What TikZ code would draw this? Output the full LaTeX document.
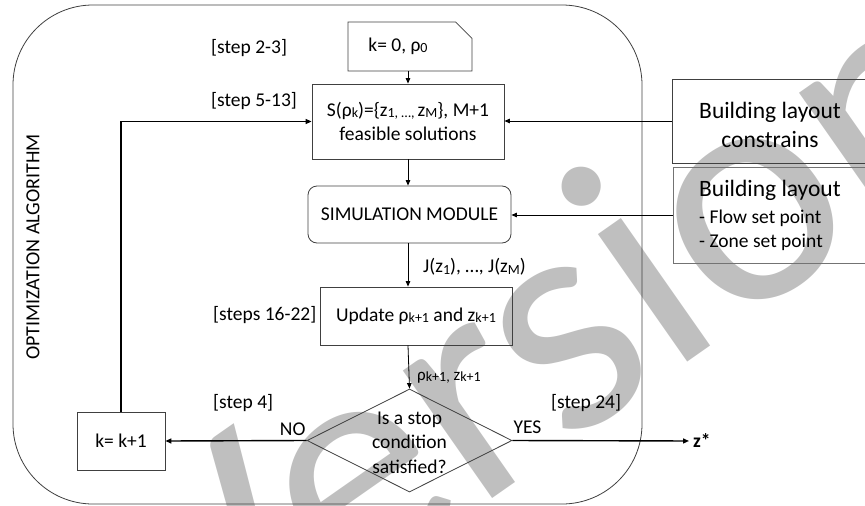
\documentclass[tikz,border=0pt]{standalone}
\usepackage{fontspec}
\setmainfont{Carlito}
\usetikzlibrary{arrows.meta,shapes.misc,shapes.geometric,calc}
\newcommand\sbx[1]{\raisebox{-1.3pt}{\fontsize{14}{14}\selectfont #1}}
\begin{document}
\begin{tikzpicture}[x=1pt,y=-1pt,
  every node/.style={font=\fontsize{19.5}{24}\selectfont, text=black},
  box/.style={draw=black!75, line width=0.8pt, inner sep=0pt},
  chbox/.style={box, chamfered rectangle, chamfered rectangle corners=north east,
                chamfered rectangle xsep=9pt, chamfered rectangle ysep=8pt},
  arr/.style={line width=1pt, draw=black, -{Triangle[length=5.5pt,width=4.5pt]}},
  farr/.style={line width=1.4pt, draw=black, -{Triangle[length=6pt,width=5pt]}},
  lbl/.style={inner sep=0pt}]
\useasboundingbox (0,0) rectangle (865,506);
\clip (0,0) rectangle (865,506);

% watermark
\node[lbl, text=black!25, rotate=35, anchor=base,
      font=\fontsize{326}{326}\selectfont] (wm) at (607,418) {Version};

% outer frame
\node[draw=black!75, line width=0.8pt, rounded corners=80pt,
      minimum width=629pt, minimum height=499pt, inner sep=0pt] (frame) at (327.5,254.5) {};
\node[lbl, rotate=90, font=\fontsize{20}{24}\selectfont] (optlabel) at (33,247) {OPTIMIZATION ALGORITHM};

% main nodes
\node[chbox, minimum width=124pt, minimum height=49pt, align=left] (kbox) at (410,46.5)
  {k= 0, ρ\sbx{0}\hspace{24pt}};
\node[box, minimum width=192pt, minimum height=75pt, align=center] (sbox) at (408,121.5)
  {S(ρ\sbx{k})=\{z\sbx{1, …, }z\sbx{M}\}, M+1\\feasible solutions};
\node[box, rounded corners=9pt, minimum width=203pt, minimum height=57pt] (sim) at (409.5,214.5)
  {SIMULATION MODULE};
\node[box, minimum width=192pt, minimum height=58pt] (upd) at (416,316)
  {Update ρ\sbx{k+1} and z\sbx{k+1}};
\node[diamond, box, minimum width=205pt, minimum height=103pt] (dec) at (409.5,440.5) {};
\node[lbl, align=center, font=\fontsize{19.5}{24.5}\selectfont] (dectext) at ($(dec.center)+(0,2)$)
  {Is a stop\\condition\\satisfied?};
\node[box, minimum width=88pt, minimum height=58pt] (kk) at (121,441) {k= k+1};
\node[lbl, anchor=west, font=\bfseries\fontsize{19.5}{24}\selectfont] (zstar) at (693,441) {z*};

% building layout boxes
\node[chbox, minimum width=196pt, minimum height=84pt] (b1) at (770,121) {};
\node[lbl, align=center, font=\fontsize{23.5}{29}\selectfont] (b1text) at (770,125)
  {Building layout\\constrains};
\node[chbox, draw=black!55, minimum width=195pt, minimum height=96pt] (b2) at (770.5,215) {};
\node[lbl, anchor=base west, font=\fontsize{23.5}{28}\selectfont] (b2t1) at (699,196) {Building layout};
\node[lbl, anchor=base west] (b2t2) at (699,223) {- Flow set point};
\node[lbl, anchor=base west] (b2t3) at (699,247) {- Zone set point};

% step labels
\node[lbl, anchor=west] (s23) at (211,48) {[step 2-3]};
\node[lbl, anchor=west] (s513) at (211,101) {[step 5-13]};
\node[lbl, anchor=west] (s1622) at (213,315) {[steps 16-22]};
\node[lbl, anchor=west] (s4) at (213,403) {[step 4]};
\node[lbl, anchor=west] (s24) at (551,403) {[step 24]};

% connectors
\coordinate (ax) at (408,0);
\draw[arr] (kbox.south -| ax) -- (sbox.north -| ax);
\draw[arr] (sbox.south -| ax) -- (sim.north -| ax);
\draw[arr] (sim.south -| ax) -- (upd.north -| ax);
\draw[arr, line width=0.8pt] (upd.south -| ax) -- (dec.north);
\node[lbl, anchor=west] (jlab) at (423,267) {J(z\sbx{1}), …, J(z\sbx{M})};
\node[lbl, anchor=west, font=\fontsize{17}{20}\selectfont] (rlab) at (417,378)
  {ρ\sbx{k+1,} z\sbx{k+1}};

\draw[farr] (kk.north) |- (sbox.west);
\draw[farr] (dec.west) -- (kk.east);
\draw[farr, shorten >=4pt] (dec.east) -- (zstar.west);
\node[lbl, anchor=base east] (nolab) at ($(dec.west)+(-1,-5.5)$) {NO};
\node[lbl, anchor=base west] (yeslab) at ($(dec.east)+(1,-7.5)$) {YES};

\draw[arr] (b1.west) -- (b1.west -| sbox.east);
\draw[arr] (b2.west) -- (b2.west -| sim.east);
\end{tikzpicture}
\end{document}
